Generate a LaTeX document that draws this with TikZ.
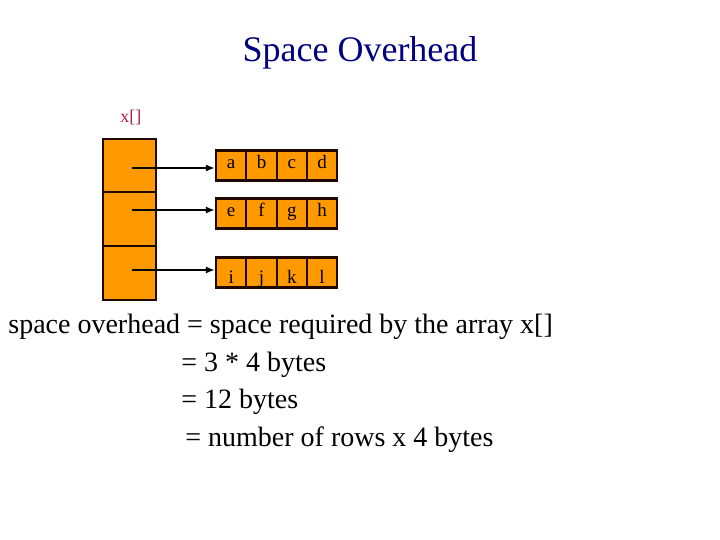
\documentclass[tikz,border=0pt]{standalone}
\usepackage{fontspec}
\setmainfont{Liberation Serif}
\usetikzlibrary{arrows.meta}

\definecolor{cellorange}{RGB}{255,153,0}
\definecolor{cellline}{RGB}{32,8,0}
\definecolor{titleblue}{RGB}{0,0,128}
\definecolor{namered}{RGB}{176,30,75}

\tikzset{every picture/.style={line width=0.75pt}}
\tikzset{
  ptrcell/.style={draw=cellline, fill=cellorange, line width=2.2pt, minimum width=53pt, inner sep=0pt},
  cell/.style={draw=cellline, fill=cellorange, line width=2.2pt, minimum width=30.3pt, minimum height=30pt,
    inner sep=0pt, font=\fontsize{19}{21}\selectfont, text height=10pt, text depth=3pt},
  lowcell/.style={cell, text height=21pt, text depth=0pt},
  ptrarrow/.style={line width=2.8pt, -{Latex[length=9pt,width=7pt]}},
  bodytext/.style={anchor=base west, inner sep=0pt, font=\fontsize{28}{30}\selectfont}
}

\begin{document}
\begin{tikzpicture}[x=1pt,y=1pt,yscale=-1,xscale=1]
\path[use as bounding box] (0,0) rectangle (720,540);

% Text Node
\node (title) [anchor=base, inner sep=0pt, text=titleblue, font=\fontsize{36}{40}\selectfont] at (360,62) {Space Overhead};
% Text Node
\node (xname) [anchor=base west, inner sep=0pt, text=namered, font=\fontsize{18}{20}\selectfont] at (120,123) {x[]};

%Shape: pointer array x[]
\node (p1) [ptrcell, minimum height=53pt] at (129.5,165.5) {};
\node (p2) [ptrcell, minimum height=54pt] at (129.5,219) {};
\node (p3) [ptrcell, minimum height=54pt] at (129.5,273) {};

%Shape: row 0
\node (a1) [cell] at (231.2,165.5) {a};
\node (a2) [cell] at (261.5,165.5) {b};
\node (a3) [cell] at (291.8,165.5) {c};
\node (a4) [cell] at (322.1,165.5) {d};
%Shape: row 1
\node (b1) [cell] at (231.2,213.5) {e};
\node (b2) [cell] at (261.5,213.5) {f};
\node (b3) [cell] at (291.8,213.5) {g};
\node (b4) [cell] at (322.1,213.5) {h};
%Shape: row 2
\node (c1) [lowcell] at (231.2,272.5) {i};
\node (c2) [lowcell] at (261.5,272.5) {j};
\node (c3) [lowcell] at (291.8,272.5) {k};
\node (c4) [lowcell] at (322.1,272.5) {l};

%Straight Lines
\coordinate (s1) at (132,168);
\coordinate (s2) at (132,210);
\coordinate (s3) at (132,270);
\draw[ptrarrow] (s1) -- (s1 -| a1.west);
\draw[ptrarrow] (s2) -- (s2 -| b1.west);
\draw[ptrarrow] (s3) -- (s3 -| c1.west);

% Text Node
\node (line1) [bodytext] at (8,333) {space overhead = space required by the array x[]};
\node (line2) [bodytext] at (181,371) {= 3 * 4 bytes};
\node (line3) [bodytext] at (181,408) {= 12 bytes};
\node (line4) [bodytext] at (185,446) {= number of rows x 4 bytes};

\end{tikzpicture}
\end{document}
